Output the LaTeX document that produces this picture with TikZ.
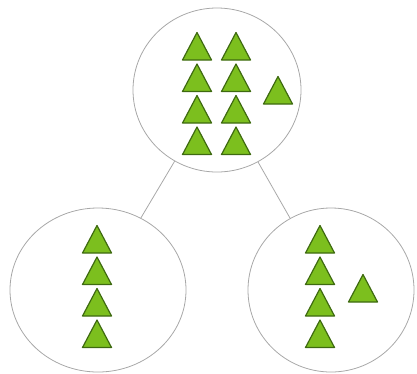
\documentclass[tikz,border=0pt]{standalone}
\usetikzlibrary{shapes.geometric}
\definecolor{leafgreen}{HTML}{7CBF1E}
\definecolor{leafedge}{HTML}{3E6A10}
\definecolor{ringgray}{HTML}{A8A8A8}
\tikzset{
	setnode/.style={ellipse, draw=ringgray, line width=0.8pt, inner sep=0pt, minimum height=164pt},
	tri/.pic={\draw[fill=leafgreen, draw=leafedge, line width=1.2pt, line join=round] (-14.5,0) -- (14.5,0) -- (0,-27.5) -- cycle;}
}
\begin{document}
\begin{tikzpicture}[x=1pt, y=-1pt]
				\useasboundingbox (0,0) rectangle (417,373);
				\node[setnode, minimum width=168pt] (root) at (217,90) {};
				\node[setnode, minimum width=176pt] (lsub) at (98,290) {};
				\node[setnode, minimum width=166pt] (rsub) at (331,290) {};
				\draw[ringgray, line width=0.8pt] (root) -- (lsub);
				\draw[ringgray, line width=0.8pt] (root) -- (rsub);
				% whole set
				\foreach \y in {60,91.5,123,154.5} {
					\pic at (197,\y) {tri};
					\pic at (236,\y) {tri};
				}
				\pic at (278,104) {tri};
				% split
				\foreach \y in {253,284.5,316,347.5} {
					\pic at (97,\y) {tri};
					\pic at (320,\y) {tri};
				}
				\pic at (363,302) {tri};
			\end{tikzpicture}
\end{document}
